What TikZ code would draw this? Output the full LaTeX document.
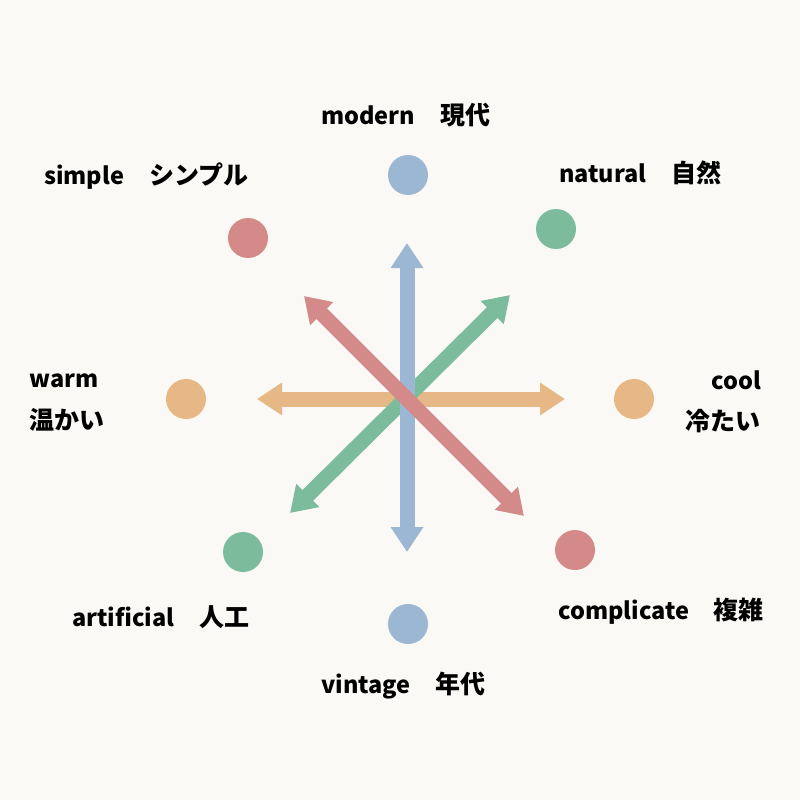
\documentclass[tikz,border=0pt]{standalone}
\usepackage{fontspec}
\setmainfont{Noto Sans CJK JP}
\usetikzlibrary{arrows.meta}
\definecolor{bgc}{HTML}{FAF9F5}
\definecolor{cblue}{HTML}{9BB7D4}
\definecolor{corange}{HTML}{E5B886}
\definecolor{cgreen}{HTML}{7DBB9D}
\definecolor{cred}{HTML}{D38A89}
\newcommand{\jpt}{\fontsize{25}{28}\selectfont}
\tikzset{
  dot/.style={circle,minimum size=40pt,inner sep=0pt,fill=#1},
  lbl/.style={inner sep=0pt,font=\fontsize{23.5}{28}\selectfont\bfseries,text=black},
  dbl/.style={line width=15pt,draw=#1,{Triangle[width=31pt,length=25pt]}-{Triangle[width=31pt,length=25pt]}}
}
\begin{document}
\begin{tikzpicture}[x=1pt,y=-1pt]
\fill[bgc] (0,0) rectangle (800,800);
\useasboundingbox (0,0) rectangle (800,800);
% dots
\node[dot=cblue] (dmod) at (408,175) {};
\node[dot=cgreen] (dnat) at (556,229) {};
\node[dot=corange] (dcool) at (634,399) {};
\node[dot=cred] (dcomp) at (575,550) {};
\node[dot=cblue] (dvin) at (408,624) {};
\node[dot=cgreen] (dart) at (243,552) {};
\node[dot=corange] (dwarm) at (186,399) {};
\node[dot=cred] (dsim) at (248,238) {};
% arrow ends
\coordinate (bt) at (407,243);
\coordinate (bb) at (407,552);
\coordinate (ol) at (257,399);
\coordinate (or) at (565,399);
\coordinate (gt) at (510,295);
\coordinate (gb) at (290,513);
\coordinate (rt) at (304,296);
\coordinate (rb) at (524,516);
\draw[dbl=corange] (ol) -- (or);
\draw[dbl=cgreen] (gb) -- (gt);
\draw[dbl=cblue] (bb) -- (bt);
\draw[dbl=cred] (rt) -- (rb);
% labels
\node[lbl,anchor=base west] (tmod) at (321,124) {modern{\jpt　現代}};
\node[lbl,anchor=base west] (tnat) at (559,182) {natural{\jpt　自然}};
\node[lbl,anchor=base east] (tcool) at (761,389) {cool};
\node[lbl,anchor=base east] (tcool2) at (761,430) {\jpt 冷たい};
\node[lbl,anchor=base west] (tcomp) at (558,619) {complicate{\jpt　複雑}};
\node[lbl,anchor=base west] (tvin) at (321,693) {vintage{\jpt　年代}};
\node[lbl,anchor=base west] (tart) at (72,626) {artificial{\jpt　人工}};
\node[lbl,anchor=base west] (twarm) at (29,387) {warm};
\node[lbl,anchor=base west] (twarm2) at (29,429) {\jpt 温かい};
\node[lbl,anchor=base west] (tsim) at (44,184) {simple{\jpt　シンプル}};
\end{tikzpicture}
\end{document}
